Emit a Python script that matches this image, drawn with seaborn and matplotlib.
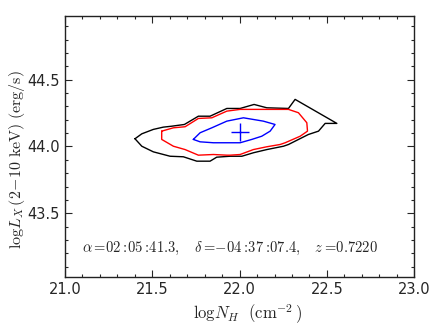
import pandas as pd
import numpy as np
import matplotlib
matplotlib.use('Agg')
import matplotlib.pyplot as plt
import seaborn as sns
from matplotlib.ticker import MultipleLocator

# contour levels in (log NH, log LX) space
black_nh = [21.401, 21.440, 21.506, 21.563, 21.611, 21.684, 21.764, 21.831, 21.927, 22.003,
            22.083, 22.156, 22.280, 22.318, 22.557, 22.490, 22.452, 22.394, 22.280, 22.251,
            22.156, 22.079, 22.013, 21.946, 21.869, 21.831, 21.755, 21.678, 21.602, 21.506, 21.440]
black_lx = [44.058, 44.095, 44.128, 44.145, 44.152, 44.165, 44.227, 44.227, 44.285, 44.285,
            44.315, 44.290, 44.285, 44.353, 44.173, 44.173, 44.115, 44.090, 44.015, 44.002,
            43.977, 43.953, 43.927, 43.927, 43.920, 43.890, 43.890, 43.923, 43.927, 43.960, 44.002]

red_nh = [21.554, 21.621, 21.688, 21.764, 21.841, 21.927, 22.003, 22.060, 22.280, 22.337,
          22.385, 22.389, 22.347, 22.261, 22.232, 22.156, 22.079, 22.003, 21.946, 21.927,
          21.850, 21.764, 21.688, 21.621, 21.554]
red_lx = [44.115, 44.140, 44.148, 44.210, 44.215, 44.265, 44.278, 44.278, 44.278, 44.253,
          44.178, 44.115, 44.077, 44.028, 44.015, 43.998, 43.977, 43.940, 43.935, 43.935,
          43.940, 43.935, 43.977, 44.002, 44.053]

blue_nh = [21.735, 21.774, 21.841, 21.927, 22.003, 22.022, 22.136, 22.203, 22.175, 22.127,
           22.070, 22.003, 21.850, 21.774]
blue_lx = [44.053, 44.103, 44.140, 44.190, 44.210, 44.215, 44.190, 44.165, 44.115, 44.077,
           44.053, 44.028, 44.028, 44.035]

best_nh = [22.0]
best_lx = [44.11]

sns.set_style("ticks")
plt.rcParams['mathtext.fontset'] = 'cm'
plt.rcParams['font.family'] = ['DejaVu Sans']

fig = plt.figure(figsize=(4.36, 3.27), dpi=100)
ax = fig.add_axes([0.149, 0.152, 0.801, 0.800])

for nh, lx, col in [(black_nh, black_lx, 'black'), (red_nh, red_lx, 'red'), (blue_nh, blue_lx, 'blue')]:
    df = pd.DataFrame({'nh': nh + nh[:1], 'lx': lx + lx[:1]})
    sns.lineplot(data=df, x='nh', y='lx', sort=False, estimator=None, color=col, lw=1.0, ax=ax)

sns.scatterplot(x=best_nh, y=best_lx, marker='+', s=160, color='blue', linewidth=1.0, ax=ax)

ax.set_xlim(21.0, 23.0)
ax.set_ylim(43.02, 44.98)
ax.xaxis.set_major_locator(MultipleLocator(0.5))
ax.xaxis.set_minor_locator(MultipleLocator(0.1))
ax.yaxis.set_major_locator(MultipleLocator(0.5))
ax.yaxis.set_minor_locator(MultipleLocator(0.1))
ax.tick_params(which='both', direction='in', top=True, right=True, labelsize=10.5, width=0.8)
ax.tick_params(which='major', length=4.8)
ax.tick_params(which='minor', length=2.5)
for sp in ax.spines.values():
    sp.set_linewidth(1.0)
    sp.set_color('#222222')

ax.set_xlabel(r'$\mathrm{log}N_H\ \ (\mathrm{cm}^{-2}\,)$', fontsize=12)
ax.set_ylabel(r'$\mathrm{log}L_X\,(2\!-\!10\ \mathrm{keV})\ (\mathrm{erg/s})$', fontsize=11.5)
ax.xaxis.label.set_x(0.523)
ax.yaxis.label.set_y(0.45)
ax.yaxis.labelpad = 0

ax.text(0.05, 0.112,
        r'$\alpha=\!02:\!05:\!41.3,\ \ \ \delta=\!{-}04:\!37:\!07.4,\ \ \ z=\!0.7220$',
        transform=ax.transAxes, fontsize=10.5, va='center', ha='left')

fig.savefig('out.png', dpi=100)
